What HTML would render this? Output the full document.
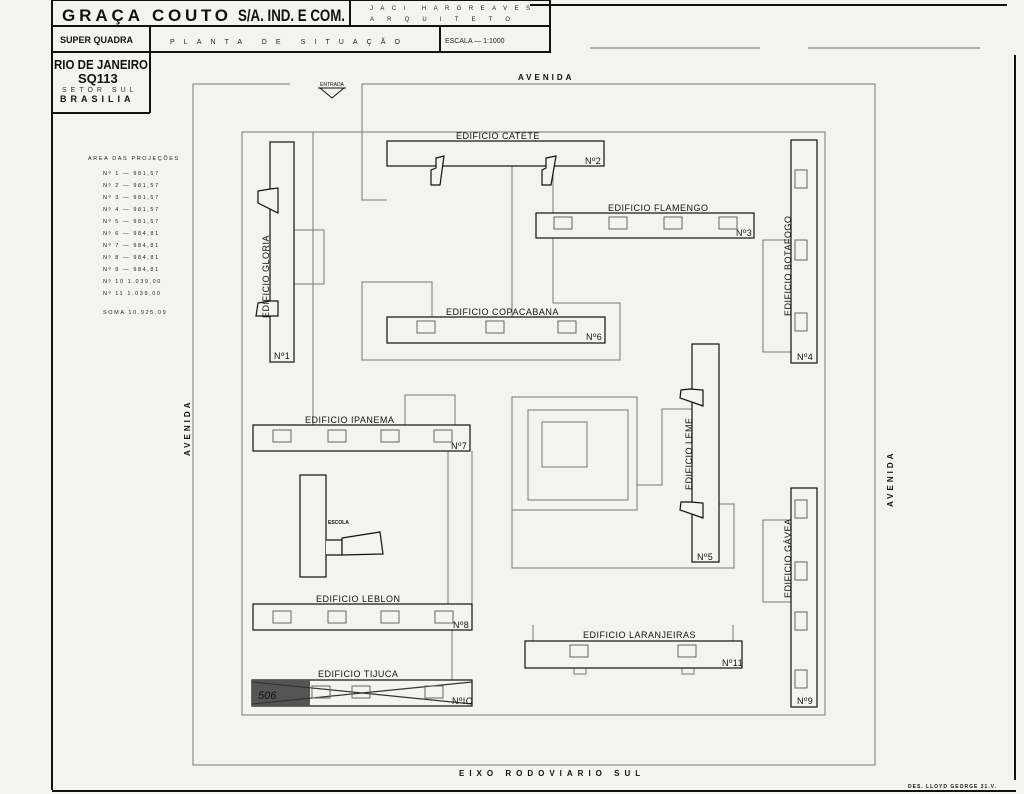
<!DOCTYPE html>
<html><head><meta charset="utf-8"><style>
html,body{margin:0;padding:0;background:#f3f3f0;}
svg{display:block;font-family:"Liberation Sans",sans-serif;}
</style></head><body>
<svg width="1024" height="794" viewBox="0 0 1024 794">
<rect width="1024" height="794" fill="#f3f3f0"/>
<g stroke="#111" fill="none" stroke-width="2">
<line x1="52" y1="0" x2="52" y2="790"/>
<line x1="52" y1="791" x2="1016" y2="791"/>
<line x1="1015" y1="55" x2="1015" y2="780"/>
<line x1="530" y1="5" x2="1007" y2="5"/>
<rect x="52" y="0" width="498" height="52"/>
<line x1="52" y1="26" x2="550" y2="26"/>
<line x1="150" y1="26" x2="150" y2="113"/>
<line x1="52" y1="113" x2="150" y2="113"/>
<line x1="350" y1="0" x2="350" y2="26"/>
<line x1="440" y1="26" x2="440" y2="52"/>
</g>
<g stroke="#666" stroke-width="1">
<line x1="590" y1="48" x2="760" y2="48"/><line x1="808" y1="48" x2="980" y2="48"/>
</g>
<text x="62" y="21" font-size="17" font-weight="bold" fill="#111" textLength="78" lengthAdjust="spacing">GRAÇA</text>
<text x="152" y="21" font-size="17" font-weight="bold" fill="#111" textLength="76" lengthAdjust="spacing">COUTO</text>
<text x="238" y="21" font-size="17" font-weight="bold" fill="#111" textLength="107" lengthAdjust="spacingAndGlyphs">S/A. IND. E COM.</text>
<text x="370" y="10" font-size="6" fill="#222" textLength="160" lengthAdjust="spacing">JACI   HARGREAVES</text>
<text x="370" y="21" font-size="6" fill="#222" textLength="140" lengthAdjust="spacing">ARQUITETO</text>
<text x="60" y="43" font-size="9" font-weight="bold" fill="#111">SUPER QUADRA</text>
<text x="170" y="44" font-size="7" fill="#222" textLength="230" lengthAdjust="spacing">PLANTA   DE   SITUAÇÃO</text>
<text x="445" y="43" font-size="7" fill="#222">ESCALA —  1:1000</text>
<text x="54" y="69" font-size="13" font-weight="bold" fill="#111" textLength="94" lengthAdjust="spacingAndGlyphs">RIO DE JANEIRO</text>
<text x="78" y="83" font-size="13" font-weight="bold" fill="#111">SQ113</text>
<text x="62" y="92" font-size="7" letter-spacing="4" fill="#333">SETOR SUL</text>
<text x="60" y="102" font-size="9" font-weight="bold" letter-spacing="4" fill="#111">BRASILIA</text>
<g font-size="5.5" fill="#222" letter-spacing="1.6">
<text x="88" y="160">AREA DAS PROJEÇÕES</text>
<text x="103" y="175">Nº 1  — 981,57</text><text x="103" y="187">Nº 2  — 981,57</text>
<text x="103" y="199">Nº 3  — 981,57</text><text x="103" y="211">Nº 4  — 981,57</text>
<text x="103" y="223">Nº 5  — 981,57</text><text x="103" y="235">Nº 6  — 984,81</text>
<text x="103" y="247">Nº 7  — 984,81</text><text x="103" y="259">Nº 8  — 984,81</text>
<text x="103" y="271">Nº 9  — 984,81</text><text x="103" y="283">Nº 10   1.039,00</text>
<text x="103" y="295">Nº 11   1.039,00</text><text x="103" y="314">SOMA   10.925,09</text>
</g>
<g stroke="#777" fill="none" stroke-width="1">
<polyline points="290,84 193,84 193,765 875,765 875,84 362,84 362,200 387,200"/>
<rect x="242" y="132" width="583" height="583"/>
<line x1="313" y1="132" x2="313" y2="425"/>
<line x1="362" y1="132" x2="362" y2="200"/>
<line x1="512" y1="166" x2="512" y2="317"/><line x1="553" y1="166" x2="553" y2="213"/>
<rect x="294" y="230" width="30" height="54"/>
<polyline points="432,317 432,282 362,282 362,360 620,360 620,303 553,303 553,238"/>
<rect x="405" y="395" width="50" height="30"/>
<rect x="512" y="397" width="125" height="113"/>
<rect x="528" y="410" width="100" height="90"/>
<rect x="542" y="422" width="45" height="45"/>
<polyline points="637,485 662,485 662,409 692,409"/>
<polyline points="512,510 512,568 734,568 734,504 719,504"/>
<rect x="763" y="240" width="28" height="112"/>
<rect x="763" y="520" width="28" height="82"/>
<line x1="452" y1="630" x2="452" y2="680"/>
<polyline points="448,451 448,604"/>
<polyline points="472,604 472,451"/>
<line x1="533" y1="625" x2="533" y2="641"/><line x1="733" y1="625" x2="733" y2="641"/>
<rect x="574" y="668" width="12" height="6"/><rect x="682" y="668" width="12" height="6"/>
</g>
<polygon points="320,88 344,88 332,98" fill="none" stroke="#111"/>
<line x1="318" y1="88" x2="346" y2="88" stroke="#111"/>
<text x="320" y="86" font-size="5" fill="#111">ENTRADA</text>
<g stroke="#111" fill="#f3f3f0" stroke-width="1.2">
<rect x="387" y="141" width="217" height="25"/>
<rect x="536" y="213" width="218" height="25"/>
<rect x="387" y="317" width="218" height="26"/>
<rect x="270" y="142" width="24" height="220"/>
<rect x="791" y="140" width="26" height="223"/>
<rect x="692" y="344" width="27" height="218"/>
<rect x="253" y="425" width="217" height="26"/>
<rect x="253" y="604" width="219" height="26"/>
<rect x="252" y="680" width="220" height="26"/>
<rect x="525" y="641" width="217" height="27"/>
<rect x="791" y="488" width="26" height="219"/>
<rect x="300" y="475" width="26" height="102"/>
<polyline points="326,540 342,540 342,555 326,555"/>
<polygon points="342,538 380,532 383,554 342,555"/>
<polygon points="436,158 444,156 440,185 431,185 431,170 436,168"/>
<polygon points="546,158 556,156 551,185 542,185 542,170 546,168"/>
<polygon points="258,191 270,189 278,188 278,213 258,203"/>
<polygon points="258,303 270,301 278,301 278,316 256,316"/>
<polygon points="681,390 690,389 703,390 703,406 680,398"/>
<polygon points="681,502 690,502 703,503 703,518 680,510"/>
</g>
<rect x="252" y="680" width="58" height="26" fill="#555"/>
<g stroke="#333" stroke-width="1.2"><line x1="252" y1="682" x2="472" y2="704"/><line x1="252" y1="704" x2="472" y2="682"/></g>
<text x="258" y="699" font-size="11" font-style="italic" fill="#111">506</text>
<g stroke="#666" fill="none" stroke-width="1">
<rect x="417" y="321" width="18" height="12"/><rect x="486" y="321" width="18" height="12"/><rect x="558" y="321" width="18" height="12"/>
<rect x="554" y="217" width="18" height="12"/><rect x="609" y="217" width="18" height="12"/><rect x="664" y="217" width="18" height="12"/><rect x="719" y="217" width="18" height="12"/>
<rect x="795" y="170" width="12" height="18"/><rect x="795" y="240" width="12" height="20"/><rect x="795" y="313" width="12" height="18"/>
<rect x="795" y="500" width="12" height="18"/><rect x="795" y="562" width="12" height="18"/><rect x="795" y="612" width="12" height="18"/><rect x="795" y="670" width="12" height="18"/>
<rect x="273" y="430" width="18" height="12"/><rect x="328" y="430" width="18" height="12"/><rect x="381" y="430" width="18" height="12"/><rect x="434" y="430" width="18" height="12"/>
<rect x="273" y="611" width="18" height="12"/><rect x="328" y="611" width="18" height="12"/><rect x="381" y="611" width="18" height="12"/><rect x="435" y="611" width="18" height="12"/>
<rect x="312" y="686" width="18" height="12"/><rect x="352" y="686" width="18" height="12"/><rect x="425" y="686" width="18" height="12"/>
<rect x="570" y="645" width="18" height="12"/><rect x="678" y="645" width="18" height="12"/>
</g>
<g font-size="9" fill="#111" letter-spacing="0.5">
<text x="456" y="139">EDIFICIO  CATETE</text><text x="585" y="164">Nº2</text>
<text x="608" y="211">EDIFICIO   FLAMENGO</text><text x="736" y="236">Nº3</text>
<text x="446" y="315">EDIFICIO  COPACABANA</text><text x="586" y="340">Nº6</text>
<text x="305" y="423">EDIFICIO  IPANEMA</text><text x="451" y="449">Nº7</text>
<text x="316" y="602">EDIFICIO  LEBLON</text><text x="453" y="628">Nº8</text>
<text x="318" y="677">EDIFICIO  TIJUCA</text><text x="452" y="704">NºIO</text>
<text x="583" y="638">EDIFICIO  LARANJEIRAS</text><text x="722" y="666">Nº11</text>
<text x="274" y="359">Nº1</text><text x="797" y="360">Nº4</text><text x="697" y="560">Nº5</text><text x="797" y="704">Nº9</text>
<text transform="translate(269,318) rotate(-90)">EDIFICIO  GLORIA</text>
<text transform="translate(791,316) rotate(-90)">EDIFICIO  BOTAFOGO</text>
<text transform="translate(692,490) rotate(-90)">EDIFICIO   LEME</text>
<text transform="translate(791,598) rotate(-90)">EDIFICIO   GÁVEA</text>
</g>
<text x="328" y="524" font-size="5" font-weight="bold" fill="#111">ESCOLA</text>
<g font-size="8" font-weight="bold" fill="#111" letter-spacing="3">
<text x="518" y="80">AVENIDA</text>
<text x="459" y="776" letter-spacing="5">EIXO  RODOVIARIO  SUL</text>
<text transform="translate(190,456) rotate(-90)">AVENIDA</text>
<text transform="translate(893,507) rotate(-90)">AVENIDA</text>
</g>
<text x="908" y="788" font-size="5" font-weight="bold" fill="#111" letter-spacing="1">DES. LLOYD GEORGE   31.V.</text>
</svg>
</body></html>
